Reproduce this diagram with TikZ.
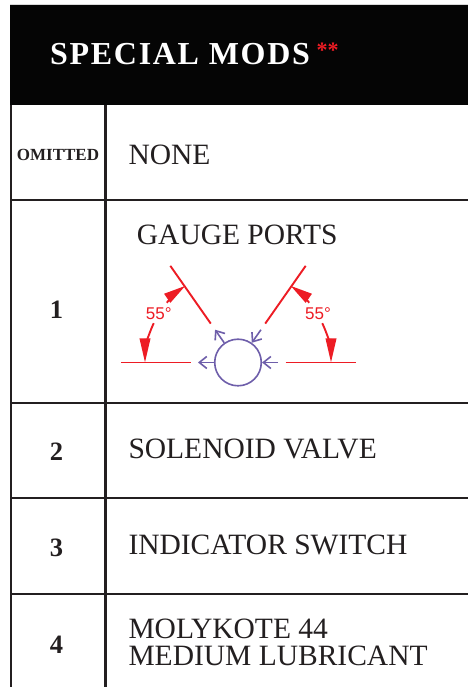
\documentclass[tikz,border=0pt]{standalone}
\usepackage{fontspec}
\setmainfont{Liberation Serif}
\newfontfamily\sansf{Liberation Sans}
\newfontfamily\headf[LetterSpace=5.3]{Liberation Serif}
\usetikzlibrary{arrows.meta}
\definecolor{gridc}{HTML}{231F20}
\definecolor{headc}{HTML}{050505}
\definecolor{redc}{HTML}{ED1C24}
\definecolor{purc}{RGB}{110,94,170}
\begin{document}
\begin{tikzpicture}[x=1pt,y=1pt,
  gridline/.style={draw=gridc,line width=2.2pt},
  bodytext/.style={anchor=base west,inner sep=0pt,font=\fontsize{29.5}{32}\selectfont,text=gridc},
  numtext/.style={anchor=base,inner sep=0pt,font=\bfseries\fontsize{26.5}{28}\selectfont,text=gridc},
  redline/.style={draw=redc,line width=1.9pt},
  angarrow/.style={draw=redc,line width=1.9pt,-{Triangle[length=22pt,width=10.5pt]}},
  portarrow/.style={draw=purc,line width=1.6pt,-{Straight Barb[length=7.5pt,width=12pt]}},
  anglabel/.style={text=redc,font=\sansf\fontsize{17}{18}\selectfont,inner sep=0pt}]
\useasboundingbox (0,0) rectangle (468,687);
\fill[white] (0,0) rectangle (468,687);
% header
\draw[draw=black!15,line width=1pt] (10,682.5) -- (468,682.5);
\fill[headc] (10,582) rectangle (468,682);
\node[anchor=base west,inner sep=0pt,text=white,font=\headf\bfseries\fontsize{32}{34}\selectfont] (title) at (50,622.7) {SPECIAL MODS};
\node[anchor=base west,inner sep=0pt,text=redc,font=\bfseries\fontsize{22}{24}\selectfont] (stars) at (316.5,629.3) {**};
% grid
\draw[gridline] (11,582) -- (11,0);
\draw[gridline] (105.5,582) -- (105.5,0);
\foreach \yy in {487,284,189,93} {\draw[gridline] (10,\yy) -- (468,\yy);}
% left column
\node[anchor=base,inner sep=0pt,text=gridc,font=\bfseries\fontsize{17}{18}\selectfont] (om) at (58,526.3) {OMITTED};
\node[numtext] (n1) at (56.5,368) {1};
\node[numtext] (n2) at (56.5,226.3) {2};
\node[numtext] (n3) at (56.5,130.3) {3};
\node[numtext] (n4) at (56.5,33.7) {4};
% right column
\node[bodytext] (none) at (128.3,522) {NONE};
\node[bodytext] (gauge) at (136.7,442) {GAUGE PORTS};
\node[bodytext] (sol) at (128.3,228.7) {SOLENOID VALVE};
\node[bodytext] (ind) at (128.3,132.7) {INDICATOR SWITCH};
\node[bodytext] (mol1) at (128.3,48.7) {MOLYKOTE 44};
\node[bodytext] (mol2) at (128.3,21.3) {MEDIUM LUBRICANT};
% gauge port diagram
\coordinate (C) at (238,324.5);
\node[circle,draw=purc,line width=1.6pt,minimum size=46.6pt,inner sep=0pt] (port) at (C) {};
\coordinate (lsA) at ([shift={(125:47.5)}]C);
\coordinate (lsB) at ([shift={(125:118)}]C);
\coordinate (lhA) at ([shift={(180:47.5)}]C);
\coordinate (lhB) at ([shift={(180:117.5)}]C);
\coordinate (rsA) at ([shift={(55:47.5)}]C);
\coordinate (rsB) at ([shift={(55:118)}]C);
\coordinate (rhA) at ([shift={(0:47.5)}]C);
\coordinate (rhB) at ([shift={(0:117.5)}]C);
\draw[redline] (lsA) -- (lsB);
\draw[redline] (lhA) -- (lhB);
\draw[redline] (rsA) -- (rsB);
\draw[redline] (rhA) -- (rhB);
% angle arcs
\draw[angarrow] ([shift={(140:93)}]C) arc (140:124.5:93);
\draw[angarrow,-{Triangle[length=24pt,width=10.5pt]}] ([shift={(155:93)}]C) arc (155:180:93);
\draw[angarrow] ([shift={(40:93)}]C) arc (40:55.5:93);
\draw[angarrow,-{Triangle[length=24pt,width=10.5pt]}] ([shift={(25:93)}]C) arc (25:0:93);
\node[anglabel] (l55) at (158.8,373.3) {55°};
\node[anglabel] (r55) at (318,373.3) {55°};
% port arrows
\coordinate (pl) at ([shift={(180:40)}]C);
\coordinate (pr) at ([shift={(0:40)}]C);
\coordinate (pul) at ([shift={(125:40)}]C);
\coordinate (pur) at ([shift={(55:40)}]C);
\draw[portarrow] (port.180) -- (pl);
\draw[portarrow] (pr) -- (port.0);
\draw[portarrow] (port.125) -- (pul);
\draw[portarrow] (pur) -- (port.55);
\end{tikzpicture}
\end{document}
